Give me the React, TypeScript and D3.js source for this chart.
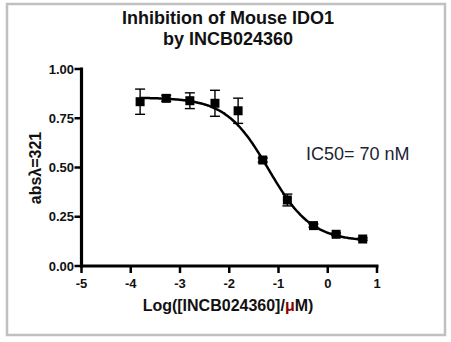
import React from "react";
import * as d3 from "d3";

const logConc = [-3.81, -3.28, -2.8, -2.29, -1.82, -1.32, -0.82, -0.29, 0.17, 0.71];
const absValues = [0.834, 0.851, 0.839, 0.826, 0.788, 0.538, 0.335, 0.205, 0.161, 0.137];
const absErrors = [0.064, 0.015, 0.04, 0.066, 0.064, 0.01, 0.03, 0.008, 0.006, 0.006];
const xTicks = [-5, -4, -3, -2, -1, 0, 1];
const yTicks = [0, 0.25, 0.5, 0.75, 1.0];
// four-parameter logistic fit
const fitTop = 0.855;
const fitBottom = 0.125;
const fitLogIC50 = -1.2;
const fitHill = 1.0;

const W = 451;
const H = 342;

export default function App() {
  const x = d3.scaleLinear().domain([-5, 1]).range([81.5, 377]);
  const y = d3.scaleLinear().domain([0, 1]).range([266, 69]);
  const fit = (v: number) =>
    fitBottom + (fitTop - fitBottom) / (1 + Math.pow(10, (v - fitLogIC50) * fitHill));
  const x0 = logConc[0];
  const x1 = logConc[logConc.length - 1];
  const curvePts = d3.range(0, 201).map((i) => x0 + ((x1 - x0) * i) / 200);
  const line = d3
    .line<number>()
    .x((d) => x(d))
    .y((d) => y(fit(d)))
    .curve(d3.curveMonotoneX);
  const font = "'Liberation Sans', Arial, sans-serif";
  const ms = 9;
  const cap = 5;
  return (
    <svg
      width={W}
      height={H}
      style={{ position: "absolute", left: 0, top: 0, background: "#fff" }}
      fontFamily={font}
    >
      <rect x={7} y={4} width={438} height={331} fill="#fff" stroke="#c0c0c0" strokeWidth={2.5} />
      <text x={228} y={24} textAnchor="middle" fontWeight="bold" fontSize={18} fill="#111">
        Inhibition of Mouse IDO1
      </text>
      <text x={228} y={45} textAnchor="middle" fontWeight="bold" fontSize={18} fill="#111">
        by INCB024360
      </text>
      {/* axes */}
      <line x1={x(-5)} x2={x(-5)} y1={y(0) + 1.5} y2={y(1) - 1.5} stroke="#000" strokeWidth={3.2} />
      <line x1={x(-5) - 1.5} x2={x(1) + 1.5} y1={y(0)} y2={y(0)} stroke="#000" strokeWidth={3.2} />
      {yTicks.map((t) => (
        <g key={"y" + t}>
          <line x1={x(-5) - 7} x2={x(-5)} y1={y(t)} y2={y(t)} stroke="#000" strokeWidth={2.5} />
          <text
            x={x(-5) - 7.5}
            y={y(t) + 4.5}
            textAnchor="end"
            fontWeight="bold"
            fontSize={13}
            fill="#111"
          >
            {t.toFixed(2)}
          </text>
        </g>
      ))}
      {xTicks.map((t) => (
        <g key={"x" + t}>
          <line x1={x(t)} x2={x(t)} y1={y(0)} y2={y(0) + 7} stroke="#000" strokeWidth={2.5} />
          <text x={x(t)} y={288} textAnchor="middle" fontWeight="bold" fontSize={13} fill="#111">
            {t}
          </text>
        </g>
      ))}
      <text x={228} y={311} textAnchor="middle" fontWeight="bold" fontSize={16} fill="#111">
        Log([INCB024360]/<tspan fill="#8b0000">μ</tspan>M)
      </text>
      <text
        transform="translate(41,168) rotate(-90)"
        textAnchor="middle"
        fontWeight="bold"
        fontSize={16}
        fill="#111"
      >
        absλ=321
      </text>
      {/* fit curve */}
      <path d={line(curvePts) || ""} fill="none" stroke="#000" strokeWidth={2.5} />
      {/* error bars */}
      {logConc.map((c, i) => {
        const cx = x(c);
        const top = y(absValues[i] + absErrors[i]);
        const bot = y(absValues[i] - absErrors[i]);
        return (
          <g key={"e" + i} stroke="#000" strokeWidth={1.4}>
            <line x1={cx} x2={cx} y1={top} y2={bot} />
            <line x1={cx - cap} x2={cx + cap} y1={top} y2={top} />
            <line x1={cx - cap} x2={cx + cap} y1={bot} y2={bot} />
          </g>
        );
      })}
      {logConc.map((c, i) => (
        <rect
          key={"p" + i}
          x={x(c) - ms / 2}
          y={y(absValues[i]) - ms / 2}
          width={ms}
          height={ms}
          fill="#000"
        />
      ))}
      <text x={306} y={160} fontSize={18} fill="#1c2333">
        IC50= 70 nM
      </text>
    </svg>
  );
}
